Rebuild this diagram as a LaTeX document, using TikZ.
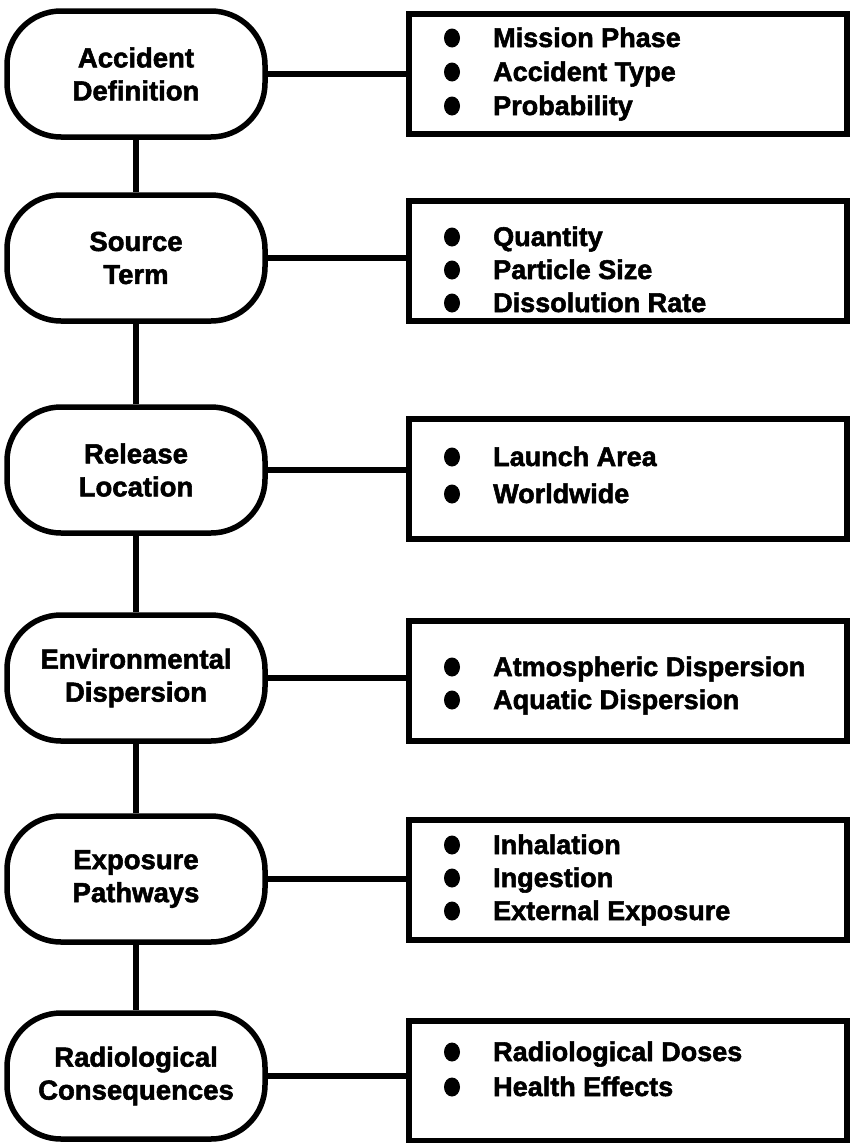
\documentclass[tikz,border=0pt]{standalone}
\usepackage{fontspec}
\setmainfont{Liberation Sans}
\newfontfamily\heavy{Liberation Sans Bold}[FakeBold=2]
\usetikzlibrary{shapes.geometric}
\tikzset{
  stage/.style={draw, line width=5.5pt, rounded corners=54pt, minimum width=258pt, minimum height=126pt, align=center, inner sep=0pt, font=\heavy\fontsize{27.5}{33}\selectfont},
  listbox/.style={draw, line width=5.5pt, minimum width=438pt, minimum height=120pt},
  dot/.style={ellipse, fill=black, inner sep=0pt, minimum width=16pt, minimum height=19pt},
  itemtext/.style={anchor=base west, inner sep=0pt, font=\heavy\fontsize{27}{30}\selectfont},
  link/.style={line width=5.5pt}
}
\begin{document}
\begin{tikzpicture}[x=1pt,y=-1pt]
\useasboundingbox (0,0) rectangle (850,1143);
% stages
\node[stage] (n1) at (136,74) {Accident\\Definition};
\node[stage] (n2) at (136,258) {Source\\Term};
\node[stage] (n3) at (136,470) {Release\\Location};
\node[stage] (n4) at (136,678) {Environmental\\Dispersion};
\node[stage] (n5) at (136,879) {Exposure\\Pathways};
\node[stage] (n6) at (136,1076) {Radiological\\Consequences};
% boxes
\node[listbox] (b1) at (628,74) {};
\node[listbox] (b2) at (628,261) {};
\node[listbox] (b3) at (628,479) {};
\node[listbox] (b4) at (628,681) {};
\node[listbox] (b5) at (628,880) {};
\node[listbox] (b6) at (628,1081) {};
% items
\node[dot] (d11) at (452,38) {}; \node[itemtext] (t11) at (493,47) {Mission Phase};
\node[dot] (d12) at (452,72) {}; \node[itemtext] (t12) at (493,81) {Accident Type};
\node[dot] (d13) at (452,106) {}; \node[itemtext] (t13) at (493,115) {Probability};
\node[dot] (d21) at (452,237) {}; \node[itemtext] (t21) at (493,246) {Quantity};
\node[dot] (d22) at (452,270) {}; \node[itemtext] (t22) at (493,279) {Particle Size};
\node[dot] (d23) at (452,303) {}; \node[itemtext] (t23) at (493,312) {Dissolution Rate};
\node[dot] (d31) at (452,457) {}; \node[itemtext] (t31) at (493,466) {Launch Area};
\node[dot] (d32) at (452,494) {}; \node[itemtext] (t32) at (493,503) {Worldwide};
\node[dot] (d41) at (452,667) {}; \node[itemtext] (t41) at (493,676) {Atmospheric Dispersion};
\node[dot] (d42) at (452,700) {}; \node[itemtext] (t42) at (493,709) {Aquatic Dispersion};
\node[dot] (d51) at (452,845) {}; \node[itemtext] (t51) at (493,854) {Inhalation};
\node[dot] (d52) at (452,878) {}; \node[itemtext] (t52) at (493,887) {Ingestion};
\node[dot] (d53) at (452,911) {}; \node[itemtext] (t53) at (493,920) {External Exposure};
\node[dot] (d61) at (452,1052) {}; \node[itemtext] (t61) at (493,1061) {Radiological Doses};
\node[dot] (d62) at (452,1087) {}; \node[itemtext] (t62) at (493,1096) {Health Effects};
% connectors
\draw[link] (n1.east) -- (n1.east -| b1.west);
\draw[link] (n2.east) -- (n2.east -| b2.west);
\draw[link] (n3.east) -- (n3.east -| b3.west);
\draw[link] (n4.east) -- (n4.east -| b4.west);
\draw[link] (n5.east) -- (n5.east -| b5.west);
\draw[link] (n6.east) -- (n6.east -| b6.west);
\draw[link] (n1.south) -- (n2.north);
\draw[link] (n2.south) -- (n3.north);
\draw[link] (n3.south) -- (n4.north);
\draw[link] (n4.south) -- (n5.north);
\draw[link] (n5.south) -- (n6.north);
\end{tikzpicture}
\end{document}
